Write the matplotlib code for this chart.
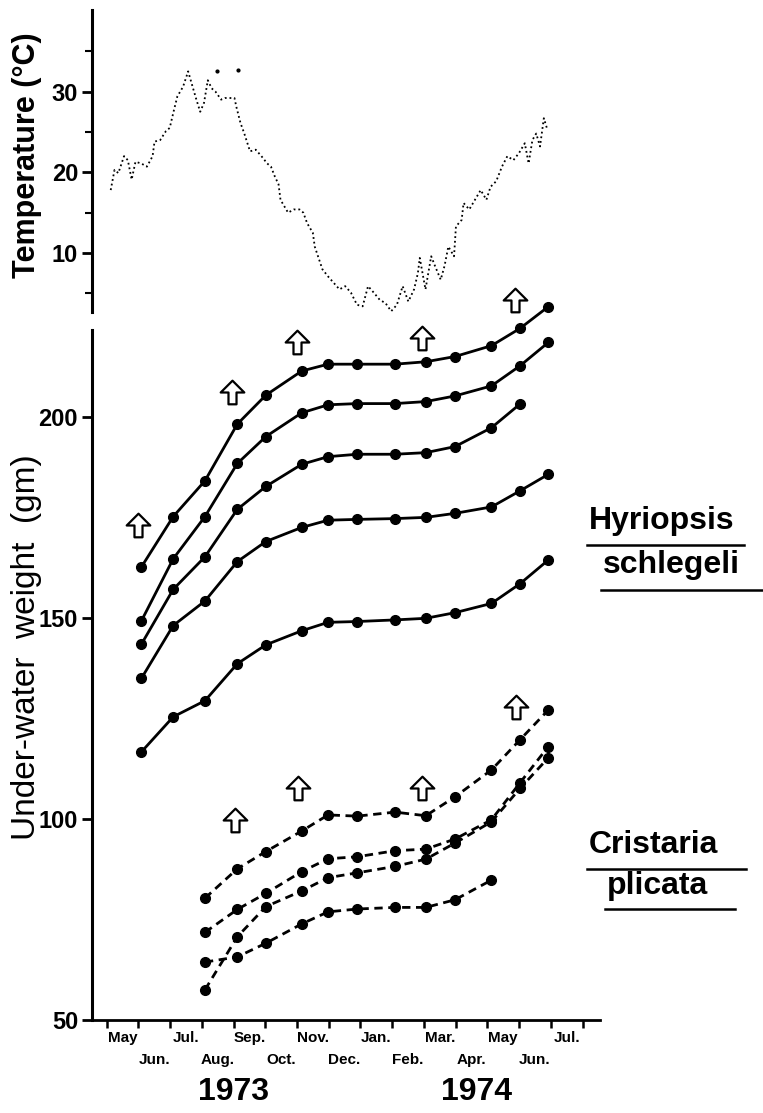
import matplotlib.pyplot as plt
import numpy as np
from matplotlib.path import Path
from matplotlib.lines import Line2D

# x axis: months counted from 1 May 1973
month_labels = ['May', 'Jun.', 'Jul.', 'Aug.', 'Sep.', 'Oct.', 'Nov.', 'Dec.',
                'Jan.', 'Feb.', 'Mar.', 'Apr.', 'May', 'Jun.', 'Jul.']
years = ['1973', '1974']
year_pos = [4.0, 11.65]

# sampling dates (months since 1 May 1973)
dates = [1.10, 2.10, 3.10, 4.12, 5.02, 6.15, 6.98, 7.90, 9.09, 10.06, 10.98, 12.13, 13.03, 13.92]

# Hyriopsis schlegeli, under-water weight (gm)
hyr_1 = [162.7, 175.2, 184.1, 198.2, 205.4, 211.4, 213.1, 213.1, 213.1, 213.7, 215.0, 217.7, 222.0, 227.4]
hyr_2 = [149.3, 164.7, 175.2, 188.4, 195.1, 201.0, 203.0, 203.3, 203.3, 203.8, 205.2, 207.7, 212.7, 218.5]
hyr_3 = [143.5, 157.1, 165.2, 177.0, 182.7, 188.2, 190.1, 190.7, 190.7, 191.1, 192.6, 197.3, 203.2]
hyr_4 = [135.0, 148.1, 154.2, 164.0, 169.0, 172.5, 174.3, 174.5, 174.7, 175.0, 176.0, 177.6, 181.6, 185.7]
hyr_5 = [116.7, 125.4, 129.4, 138.6, 143.3, 146.8, 148.9, 149.1, 149.5, 149.9, 151.3, 153.6, 158.5, 164.4]

# Cristaria plicata (starts in August)
cri_dates = dates[2:]
cri_1 = [80.3, 87.6, 91.9, 97.0, 101.0, 100.7, 101.7, 100.8, 105.5, 112.2, 119.7, 127.1]
cri_2 = [71.8, 77.5, 81.5, 86.9, 90.1, 90.6, 92.1, 92.5, 95.0, 99.8, 109.0, 118.0]
cri_3 = [64.4, 65.7, 69.1, 73.9, 76.9, 77.6, 78.0, 78.0, 79.9, 84.8]
cri_4 = [57.5, 70.7, 78.2, 82.1, 85.4, 86.6, 88.2, 90.0, 94.0, 99.3, 107.6, 115.2]

# arrows (date, weight)
hyr_arrow_x = [0.99, 3.95, 5.99, 9.94, 12.87]
hyr_arrow_y = [173.1, 206.2, 218.7, 219.7, 229.1]
cri_arrow_x = [4.04, 6.03, 9.94, 12.90]
cri_arrow_y = [99.8, 107.7, 107.7, 127.9]

# water temperature (deg C)
temp_x = [0.13, 0.25, 0.37, 0.55, 0.67, 0.79, 0.91, 1.09, 1.27, 1.45, 1.51, 1.69, 1.87, 1.99,
          2.11, 2.23, 2.41, 2.57, 2.71, 2.83, 2.95, 3.07, 3.19, 3.31, 3.43, 3.61, 3.73, 4.03,
          4.09, 4.22, 4.34, 4.52, 4.70, 4.88, 5.06, 5.18, 5.30, 5.42, 5.48, 5.60, 5.72, 5.90,
          6.08, 6.20, 6.32, 6.50, 6.56, 6.68, 6.80, 6.98, 7.16, 7.34, 7.52, 7.70, 7.89, 8.07,
          8.24, 8.42, 8.61, 8.79, 8.97, 9.15, 9.33, 9.51, 9.69, 9.81, 9.87, 10.05, 10.23, 10.35,
          10.53, 10.65, 10.77, 10.95, 11.01, 11.19, 11.25, 11.43, 11.61, 11.79, 11.97, 12.10,
          12.28, 12.46, 12.63, 12.82, 13.00, 13.18, 13.30, 13.42, 13.54, 13.66, 13.78, 13.89]
temp_c = [17.8, 20.3, 19.9, 22.0, 21.5, 19.1, 21.3, 21.1, 20.7, 22.0, 23.8, 24.0, 25.1, 25.5,
          27.5, 29.4, 30.6, 32.5, 30.6, 29.0, 27.5, 28.6, 31.4, 30.4, 30.0, 29.0, 29.2, 29.2,
          28.1, 26.1, 24.8, 22.6, 22.8, 22.0, 21.1, 20.7, 19.5, 18.5, 16.6, 15.8, 15.0, 15.4,
          15.4, 15.0, 13.7, 12.5, 10.8, 9.4, 8.0, 7.1, 6.3, 5.5, 5.9, 5.1, 3.6, 3.4,
          5.9, 5.1, 4.2, 3.8, 2.8, 3.6, 5.9, 4.0, 5.5, 7.5, 9.4, 5.5, 9.6, 8.4,
          6.7, 8.4, 10.8, 9.6, 13.3, 14.1, 16.2, 15.4, 16.6, 17.8, 16.6, 18.2,
          18.9, 20.7, 22.0, 21.5, 22.4, 23.6, 21.1, 24.0, 24.8, 23.2, 26.7, 25.3]
temp_odd_x = [3.49, 4.15]
temp_odd_c = [32.5, 32.7]

W, H = 763, 1113
plt.rcParams['font.family'] = ['Liberation Sans', 'DejaVu Sans']

fig = plt.figure(figsize=(W / 100, H / 100), dpi=100)

def box(x0, y0, x1, y1):
    return [x0 / W, 1 - y1 / H, (x1 - x0) / W, (y1 - y0) / H]

xlim = (-0.46, 15.55)

# temperature panel
axt = fig.add_axes(box(92, 10, 600, 312))
axt.plot(temp_x, temp_c, color='k', lw=1.3, ls=(0, (1, 1.6)))
axt.scatter(temp_odd_x, temp_odd_c, s=4, color='k')
axt.set_xlim(xlim)
axt.set_ylim(2.7, 40.1)
for s in ['top', 'right', 'bottom']:
    axt.spines[s].set_visible(False)
axt.spines['left'].set_linewidth(2.2)
axt.set_xticks([])
axt.set_yticks([10, 20, 30])
axt.set_yticks([5, 15, 25, 35], minor=True)
axt.tick_params(axis='y', which='major', length=7, width=2, pad=3, labelsize=17)
axt.tick_params(axis='y', which='minor', length=5, width=1.5)
for lab in axt.get_yticklabels():
    lab.set_fontweight('bold')
axt.set_ylabel('Temperature (°C)', fontsize=22, fontweight='bold')
axt.yaxis.set_label_coords(-0.098, 0.52)

# weight panel
ax = fig.add_axes(box(92, 330, 600, 1020))
ax.set_xlim(xlim)
ax.set_ylim(50, 221.6)

for ys in [hyr_1, hyr_2, hyr_3, hyr_4, hyr_5]:
    ax.plot(dates[:len(ys)], ys, color='k', lw=2, marker='o', ms=7, clip_on=False)
for ys in [cri_1, cri_2, cri_3, cri_4]:
    ax.plot(cri_dates[:len(ys)], ys, color='k', lw=2, ls=(0, (3, 2)), marker='o', ms=7, clip_on=False)

arrow = Path([(-0.17, -0.5), (0.17, -0.5), (0.17, 0.0), (0.5, 0.0), (0.0, 0.5),
              (-0.5, 0.0), (-0.17, 0.0), (-0.17, -0.5)],
             [Path.MOVETO] + [Path.LINETO] * 6 + [Path.CLOSEPOLY])
ax.plot(hyr_arrow_x, hyr_arrow_y, ls='none', marker=arrow, ms=17, mfc='white', mec='k', mew=1.6, clip_on=False)
ax.plot(cri_arrow_x, cri_arrow_y, ls='none', marker=arrow, ms=17, mfc='white', mec='k', mew=1.6, clip_on=False)

for s in ['top', 'right']:
    ax.spines[s].set_visible(False)
ax.spines['left'].set_linewidth(2.2)
ax.spines['bottom'].set_linewidth(2.0)
ax.set_yticks([50, 100, 150, 200])
ax.tick_params(axis='y', length=7, width=2, pad=3, labelsize=17)
for lab in ax.get_yticklabels():
    lab.set_fontweight('bold')
ax.set_ylabel('Under-water  weight  (gm)', fontsize=24)
ax.yaxis.set_label_coords(-0.098, 0.54)

# month ticks: boundaries as ticks, names in two staggered rows
centers = np.arange(15) + 0.5
ax.set_xticks(np.arange(0, 16))
ax.tick_params(axis='x', which='major', length=6, width=1.8, labelbottom=False)
ax.set_xticks(centers[0::2], minor=True)
ax.set_xticklabels(month_labels[0::2], minor=True)
ax.tick_params(axis='x', which='minor', length=0, pad=8, labelsize=11)
for lab in ax.get_xticklabels(minor=True):
    lab.set_fontweight('bold')

sec = ax.secondary_xaxis('bottom')
sec.set_xticks(centers[1::2])
sec.set_xticklabels(month_labels[1::2])
sec.tick_params(axis='x', length=0, pad=24, labelsize=11)
sec.spines['bottom'].set_visible(False)
for lab in sec.get_xticklabels():
    lab.set_fontweight('bold')

for yr, xp in zip(years, year_pos):
    ax.text(xp, -0.105, yr, transform=ax.get_xaxis_transform(), ha='center', va='center',
            fontsize=23, fontweight='bold')

# species labels with underlines
def species(lines):
    for (txt, x0, x1, ty, uy) in lines:
        fig.text(x0 / W, 1 - ty / H, txt, ha='left', va='center', fontsize=23, fontweight='bold')
        fig.add_artist(Line2D([x0 / W - 0.003, x1 / W], [1 - uy / H] * 2, color='k', lw=1.8))

species([('Hyriopsis', 589, 744, 521, 545), ('schlegeli', 603, 763, 565, 590)])
species([('Cristaria', 589, 746, 845, 869), ('plicata', 607, 735, 886, 909)])

fig.savefig('out.png', dpi=100)
